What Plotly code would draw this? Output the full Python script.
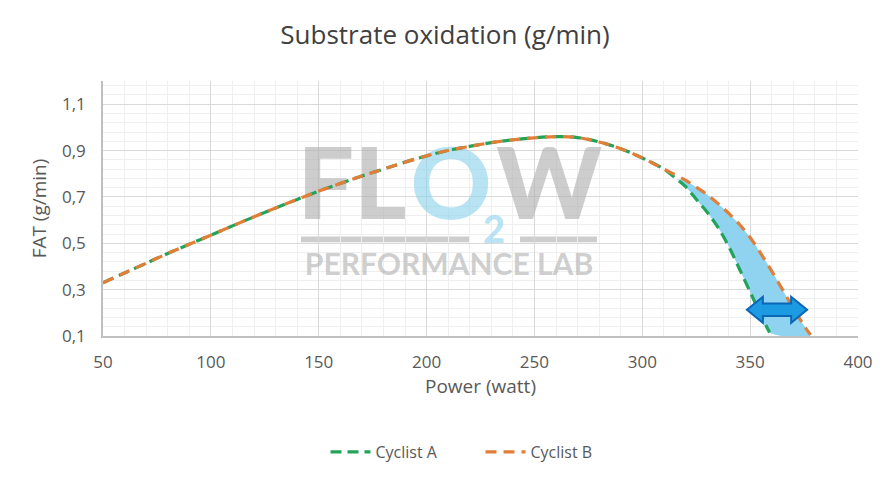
import plotly.graph_objects as go

# ---------------- data ----------------
power_common = [50, 60, 70, 80, 90, 100, 110, 120, 130, 140, 150, 160, 170, 180, 190,
                200, 210, 220, 230, 240, 250, 260, 270, 280, 290, 300, 310]
fat_common = [0.33, 0.372, 0.414, 0.456, 0.496, 0.535, 0.575, 0.614, 0.652, 0.689, 0.725,
              0.758, 0.79, 0.82, 0.85, 0.877, 0.90, 0.918, 0.934, 0.946, 0.955, 0.96,
              0.956, 0.937, 0.908, 0.868, 0.82]

power_a_tail = [316, 320, 325, 330, 335, 340, 345, 350, 355, 359]
fat_a_tail = [0.776, 0.745, 0.69, 0.635, 0.57, 0.488, 0.39, 0.29, 0.19, 0.115]

power_b_tail = [320, 325, 330, 335, 340, 345, 350, 355, 360, 365, 370, 375, 378]
fat_b_tail = [0.772, 0.742, 0.71, 0.672, 0.63, 0.582, 0.525, 0.455, 0.38, 0.30, 0.22, 0.145, 0.105]

power_a = power_common + power_a_tail
fat_a = fat_common + fat_a_tail
power_b = power_common + power_b_tail
fat_b = fat_common + fat_b_tail

x_ticks = [50, 100, 150, 200, 250, 300, 350, 400]
y_ticks = [0.1, 0.3, 0.5, 0.7, 0.9, 1.1]
y_tick_labels = ["0,1", "0,3", "0,5", "0,7", "0,9", "1,1"]

# double arrow (annotation graphic) end points
arrow_x = [348.5, 376.4]
arrow_y = 0.213

GREEN = "#22a35a"
ORANGE = "#e27e37"
TXT = "#595959"

fig = go.Figure()

# ---- watermark (drawn first so curves sit on top) ----
wm_grey = "rgba(175,175,175,0.62)"
wm_blue = "rgba(140,210,235,0.62)"


def px2x(px):
    return 50 + (px - 103) * 350 / 755


def py2y(py):
    return 0.1 + (337 - py) * 1.1 / 256


fig.add_trace(go.Scatter(x=[px2x(352)], y=[py2y(194)], mode="text", text=["FL"],
                         textfont=dict(family="Lato", size=100, color=wm_grey, weight=900),
                         hoverinfo="skip", showlegend=False))
fig.add_trace(go.Scatter(x=[px2x(451)], y=[py2y(194)], mode="text", text=["O"],
                         textfont=dict(family="Lato", size=100, color=wm_blue, weight=900),
                         hoverinfo="skip", showlegend=False))
fig.add_trace(go.Scatter(x=[px2x(549)], y=[py2y(194)], mode="text", text=["W"],
                         textfont=dict(family="Lato", size=100, color=wm_grey, weight=900),
                         hoverinfo="skip", showlegend=False))
fig.add_trace(go.Scatter(x=[px2x(494)], y=[py2y(234)], mode="text", text=["2"],
                         textfont=dict(family="Lato", size=38, color=wm_blue, weight=900),
                         hoverinfo="skip", showlegend=False))
fig.add_trace(go.Scatter(x=[px2x(449)], y=[py2y(268)], mode="text", text=["PERFORMANCE LAB"],
                         textfont=dict(family="Lato", size=30, color=wm_grey, weight=700),
                         hoverinfo="skip", showlegend=False))

# ---- shaded region between tails ----
fill_x = power_a_tail + power_b_tail[::-1]
fill_y = fat_a_tail + fat_b_tail[::-1]
fig.add_trace(go.Scatter(x=fill_x, y=fill_y, mode="lines", fill="toself",
                         fillcolor="#8fd3f1", line=dict(width=0, color="#8fd3f1", shape="spline"),
                         hoverinfo="skip", showlegend=False))

# ---- curves ----
fig.add_trace(go.Scatter(x=power_a, y=fat_a, mode="lines", name="Cyclist A",
                         line=dict(color=GREEN, width=3.2, dash="11px,6px", shape="spline")))
fig.add_trace(go.Scatter(x=power_b, y=fat_b, mode="lines", name="Cyclist B",
                         line=dict(color=ORANGE, width=3.2, dash="11px,7px", shape="spline")))

# ---- double arrow ----
hx = 7.4      # head length (watt)
hh = 0.056    # head half height
sh = 0.027    # shaft half height
x1, x2 = arrow_x
path = (f"M {x1},{arrow_y} L {x1 + hx},{arrow_y + hh} L {x1 + hx},{arrow_y + sh} "
        f"L {x2 - hx},{arrow_y + sh} L {x2 - hx},{arrow_y + hh} L {x2},{arrow_y} "
        f"L {x2 - hx},{arrow_y - hh} L {x2 - hx},{arrow_y - sh} L {x1 + hx},{arrow_y - sh} "
        f"L {x1 + hx},{arrow_y - hh} Z")
fig.add_shape(type="path", path=path, xref="x", yref="y",
              fillcolor="#1d9be2", line=dict(color="#0b66b5", width=2), layer="above")

# watermark underline bars
dom_x0, dom_w = 103, 755
dom_h = 256
for a, b in [(301, 470), (520, 597)]:
    fig.add_shape(type="rect", xref="paper", yref="paper",
                  x0=(a - dom_x0) / dom_w, x1=(b - dom_x0) / dom_w,
                  y0=(337 - 243) / dom_h, y1=(337 - 237) / dom_h,
                  fillcolor=wm_grey, line=dict(width=0), layer="below")

fig.update_layout(
    width=890, height=480,
    margin=dict(l=103, r=32, t=81, b=143),
    paper_bgcolor="white", plot_bgcolor="white",
    title=dict(text="Substrate oxidation (g/min)", x=0.5, xanchor="center",
               y=1 - 35 / 480, yanchor="middle", yref="container",
               font=dict(family="Open Sans", size=26, color="#404040")),
    font=dict(family="Open Sans", color=TXT),
    legend=dict(orientation="h", x=0.5, xanchor="center", y=(337 - 452) / 256,
                yanchor="middle", font=dict(size=16, color=TXT), itemwidth=40,
                tracegroupgap=0, entrywidth=100, entrywidthmode="pixels"),
    showlegend=True,
)

fig.update_xaxes(range=[50, 400], tickvals=x_ticks, showgrid=True, gridcolor="#d9d9d9",
                 gridwidth=1, zeroline=False, showline=True, linecolor="#bfbfbf", linewidth=1.5,
                 ticks="outside", ticklen=10, tickcolor="rgba(0,0,0,0)",
                 tickfont=dict(size=17, color=TXT),
                 minor=dict(dtick=10, showgrid=True, gridcolor="#efefef", gridwidth=1),
                 title=dict(text="Power (watt)", font=dict(size=19, color=TXT), standoff=8))
fig.update_yaxes(range=[0.1, 1.2], tickvals=y_ticks, ticktext=y_tick_labels, showgrid=True,
                 gridcolor="#d9d9d9", gridwidth=1, zeroline=False, showline=True,
                 linecolor="#bfbfbf", linewidth=1.5,
                 ticks="outside", ticklen=12, tickcolor="rgba(0,0,0,0)",
                 tickfont=dict(size=17, color=TXT),
                 minor=dict(tick0=0.1, dtick=0.04, showgrid=True, gridcolor="#efefef", gridwidth=1),
                 title=dict(text="FAT (g/min)", font=dict(size=19, color=TXT), standoff=10))

fig.write_html("out.html")
